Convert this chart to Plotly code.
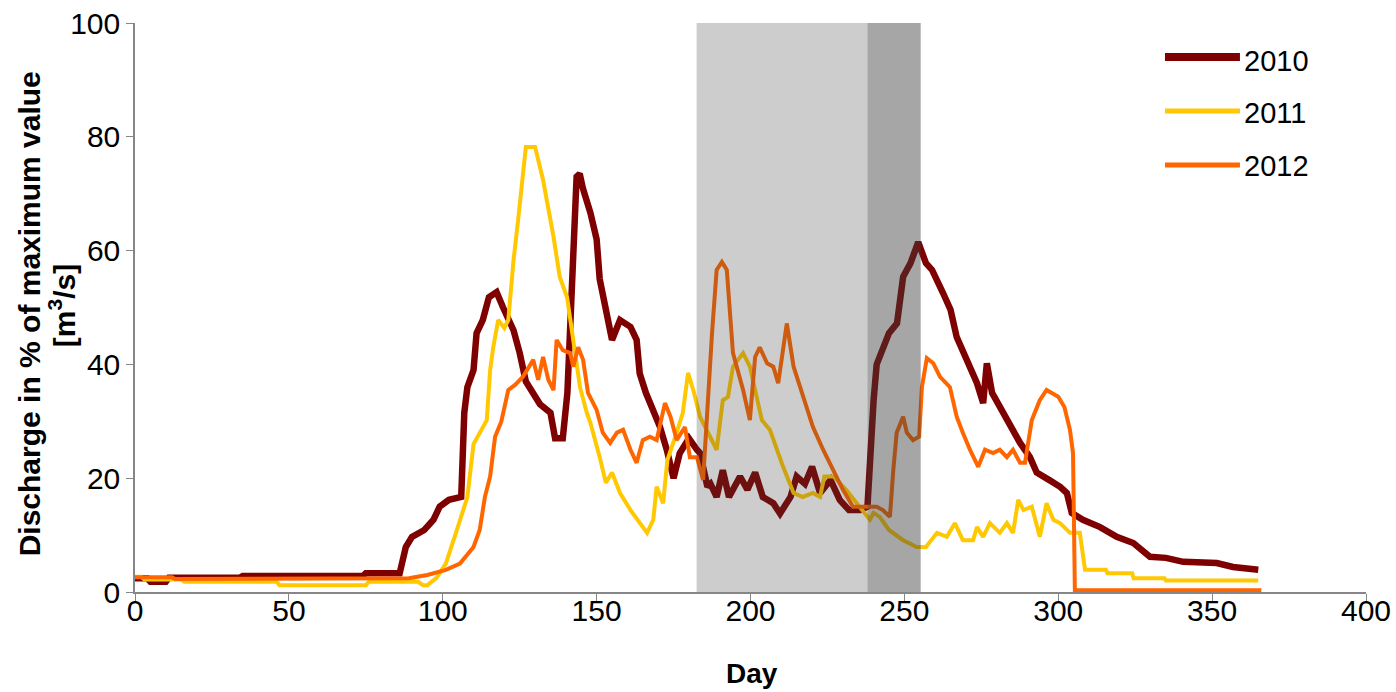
import plotly.graph_objects as go

# ---- data ----
days_2010 = [0, 4, 5, 10, 11, 34, 35, 74, 75, 86, 88, 90, 94, 97, 99, 102, 106, 107, 108, 110, 111, 113, 115,
             117.5, 119.6, 123, 125, 127, 131.6, 135, 136.5, 139, 140.5, 141.5, 142.5, 143.5, 144.5, 145.5,
             148, 150, 151, 153, 155, 157.6, 161, 163, 164, 166, 168, 170.6, 172.8, 175, 177, 180, 182.6,
             183.6, 186, 187, 189, 191, 193, 196.6, 199, 201.5, 204, 207.4, 209.6, 213, 215, 217.7, 220,
             222.6, 226, 229, 232, 235.6, 238, 239, 240, 241, 243, 245, 247.6, 248.6, 249.6, 252, 254.5,
             257, 259, 262.6, 265, 267, 270, 273.6, 275.6, 276.8, 278.5, 281, 284, 287.6, 290.8, 293, 297,
             300.6, 302.8, 304.4, 308, 313.6, 319, 324.4, 329.8, 335, 340.6, 351.5, 356.8, 365]
vals_2010 = [2.4, 2.4, 1.8, 1.8, 2.5, 2.5, 2.8, 2.8, 3.3, 3.3, 7.9, 9.7, 10.9, 12.7, 15, 16.2, 16.7, 31.5, 36,
             39, 45.5, 47.8, 51.8, 52.7, 50, 46, 42, 37, 33, 31.5, 27, 27, 35, 49, 62, 73, 73.5, 71,
             66.6, 62, 55, 50, 44.3, 47.8, 46.6, 44.3, 38.4, 35, 32.5, 29, 25, 20, 24.4, 27, 25,
             24.4, 18.5, 19, 16.7, 21.4, 16.7, 20.3, 18, 21, 16.7, 15.6, 13.8, 16.7, 20.3, 19, 22,
             17.4, 19.7, 16.2, 14.4, 14.4, 15, 27, 33.7, 40, 43, 45.5, 47.2, 50.7, 55.4, 57.8, 61.5,
             57.8, 56.6, 52.5, 49.6, 44.8, 40.8, 36.7, 33.2, 40.2, 35, 32.5, 29.7, 26.2, 23.7, 21, 19.7,
             18.5, 17.4, 13.9, 12.7, 11.4, 9.7, 8.6, 6.2, 6, 5.3, 5.1, 4.4, 3.9]

days_2011 = [0, 2, 3, 15, 16, 46, 47, 75, 76, 92, 93.6, 95, 98, 101, 104.6, 108, 110, 112, 114.3, 115.4,
             116.4, 118, 120, 121.3, 123, 124.5, 127, 130, 132.6, 136, 138, 140.4, 142.3, 144.6, 146.8,
             148, 151, 153, 155, 157.6, 161, 164, 166.4, 168.4, 169.5, 171.6, 173, 176, 178, 179.7,
             181.4, 183.6, 185.8, 189, 191, 192.7, 194.3, 197.6, 199.8, 202, 203.7, 206.3, 208.6, 210.6,
             214, 217, 220.3, 222.6, 224, 227, 231, 235.6, 238.8, 240, 242, 245, 249.6, 254, 257, 260.6,
             263.8, 266.4, 269, 272.3, 273.6, 275.6, 277.8, 281, 283.3, 285.3, 287, 288.7, 291.4, 294,
             296.2, 298.4, 300.6, 303.8, 307, 308.7, 315.5, 316, 324, 324.5, 334.5, 335, 365]
vals_2011 = [2.7, 2.7, 2.2, 2.2, 1.8, 1.8, 1.2, 1.2, 1.8, 1.8, 1.2, 1.2, 2.5, 5, 10.9, 16.7, 26, 28, 30.2, 39,
             43, 47.8, 46.4, 47.8, 58.3, 65.4, 78.2, 78.2, 72.4, 62.4, 55.4, 51.8, 44.8, 36, 31.5,
             29.7, 23.7, 19.2, 21, 17.4, 14.4, 12.1, 10.4, 12.7, 18.5, 15.6, 23.2, 28, 31.5, 38.5,
             35.5, 30.8, 28.5, 25, 33.7, 34.3, 39.6, 42, 39.6, 34.3, 30.2, 28.5, 25, 22,
             17.4, 16.7, 17.4, 16.7, 20.3, 20.3, 18, 15, 12.7, 13.9, 13.2, 10.9, 9.1, 7.9, 7.9, 10.4,
             9.7, 12.1, 9.1, 9.1, 11.4, 9.7, 12.1, 10.4, 12.1, 10.4, 16.2, 14.4, 15, 9.7,
             15.6, 12.7, 12.1, 10.4, 10.4, 3.9, 3.9, 3.3, 3.3, 2.4, 2.4, 2.0, 2.0]

days_2012 = [0, 12, 13, 88, 89, 95, 101, 105.6, 110, 112, 113.7, 115.4, 117, 119, 121.3, 123.5, 126, 129.4,
             131, 132.6, 134.3, 136, 137, 139, 141.4, 142.4, 144, 145.6, 147.2, 150, 152, 154.4, 156.6,
             158.6, 161, 163, 165, 167.3, 169.5, 172.2, 174, 176, 178.7, 180.3, 182.6, 184.6, 186, 187.5,
             189, 190.7, 192.3, 194.3, 197.6, 199.8, 201.5, 203, 205.4, 207.4, 209, 211.8, 214, 217,
             220.3, 223.6, 227, 230, 233.3, 236.6, 241, 243, 245.3, 246.4, 247.5, 249.6, 250.8, 252.8,
             254.8, 255.7, 257.3, 259.4, 261.6, 264.8, 267, 269, 271.3, 274, 276.2, 278.8, 281, 283.3,
             285.3, 287.6, 289.2, 291.4, 294, 296.2, 300, 302, 303.8, 304.8, 305.4, 366]
vals_2012 = [2.6, 2.6, 2.3, 2.3, 2.4, 3, 3.9, 5, 7.9, 10.9, 16.7, 20.3, 27.3, 29.9, 35.5, 36.4, 37.8, 40.8,
             37.3, 41.3, 37.3, 35.5, 44.3, 42.5, 42, 39.6, 43, 40.8, 35, 32, 28, 26.2, 28,
             28.5, 25, 22.7, 26.7, 27.3, 26.7, 33.2, 30.8, 26.7, 29, 23.7, 23.7, 19.7, 32.5, 45.5,
             56.6, 58, 56.6, 42, 35.5, 30.2, 41.3, 43, 40.2, 39.6, 36.7, 47.2, 39.6, 34.3,
             29, 25, 21.4, 18, 15, 15, 15, 14.4, 13.2, 21.4, 28, 30.8, 28, 26.7,
             27.3, 36, 41.1, 40.2, 37.8, 36, 30.8, 28, 25, 22, 25, 24.4, 25, 23.7,
             25, 22.7, 22.7, 30.2, 33.7, 35.5, 34.3, 32.5, 28.5, 24.4, 0.3, 0.3]

series_names = ["2010", "2011", "2012"]
series_colors = ["#7F0000", "#FFC800", "#FF6600"]
series_widths = [6.5, 4, 4]
legend_widths = [8, 5, 5]

x_ticks = [0, 50, 100, 150, 200, 250, 300, 350, 400]
y_ticks = [0, 20, 40, 60, 80, 100]

light_period = [182.5, 238]
dark_period = [238, 255.3]

FONT = "Liberation Sans, Arial, sans-serif"

fig = go.Figure()
for name, dx, vy, col, w in zip(series_names, [days_2010, days_2011, days_2012],
                                 [vals_2010, vals_2011, vals_2012], series_colors, series_widths):
    fig.add_trace(go.Scatter(x=dx, y=vy, mode="lines", name=name,
                             line=dict(color=col, width=w), showlegend=False))

fig.add_shape(type="rect", xref="x", yref="paper", x0=light_period[0], x1=light_period[1], y0=0, y1=1,
              fillcolor="rgb(60,60,60)", opacity=0.26, line=dict(width=0), layer="above")
fig.add_shape(type="rect", xref="x", yref="paper", x0=dark_period[0], x1=dark_period[1], y0=0, y1=1,
              fillcolor="rgb(60,60,60)", opacity=0.456, line=dict(width=0), layer="above")

# legend (drawn manually so its sample lines match the reference length)
leg_line_y = [0.9402, 0.8453, 0.7504]
leg_text_y = [0.9332, 0.8418, 0.7487]
for name, col, lw, ly, ty in zip(series_names, series_colors, legend_widths, leg_line_y, leg_text_y):
    fig.add_shape(type="line", xref="paper", yref="paper", x0=0.8367, x1=0.8976, y0=ly, y1=ly,
                  line=dict(color=col, width=lw))
    fig.add_annotation(text=name, xref="paper", yref="paper", x=0.8993, y=ty,
                       xanchor="left", yanchor="middle", showarrow=False,
                       font=dict(size=29, family=FONT, color="black"))

# axis titles
fig.add_annotation(text="<b>Day</b>", xref="paper", yref="paper", x=0.5012, y=-0.1424,
                   xanchor="center", yanchor="middle", showarrow=False,
                   font=dict(size=28, family=FONT, color="black"))
fig.add_annotation(text="<b>Discharge in % of maximum value</b>", xref="paper", yref="paper",
                   x=-0.0850, y=0.4886, xanchor="center", yanchor="middle", textangle=-90,
                   showarrow=False, font=dict(size=30, family=FONT, color="black"))
fig.add_annotation(text="<b>[m<sup>3</sup>/s]</b>", xref="paper", yref="paper",
                   x=-0.0592, y=0.5026, xanchor="center", yanchor="middle", textangle=-90,
                   showarrow=False, font=dict(size=30, family=FONT, color="black"))

fig.update_layout(
    width=1396, height=692,
    margin=dict(l=135, r=30, t=23, b=100, autoexpand=False),
    plot_bgcolor="white", paper_bgcolor="white",
    font=dict(family=FONT, size=30, color="black"),
    showlegend=False,
    xaxis=dict(range=[0, 400], tickvals=x_ticks, showgrid=False, zeroline=False,
               showline=True, linecolor="#868686", linewidth=1.5,
               ticks="outside", ticklen=7, tickcolor="#868686",
               tickfont=dict(size=30, family=FONT), ticklabelstandoff=-16),
    yaxis=dict(range=[0, 100], tickvals=y_ticks, showgrid=False, zeroline=False,
               showline=True, linecolor="#868686", linewidth=1.5,
               ticks="outside", ticklen=7, tickcolor="#868686",
               tickfont=dict(size=30, family=FONT)),
)

fig.write_html("out.html")
